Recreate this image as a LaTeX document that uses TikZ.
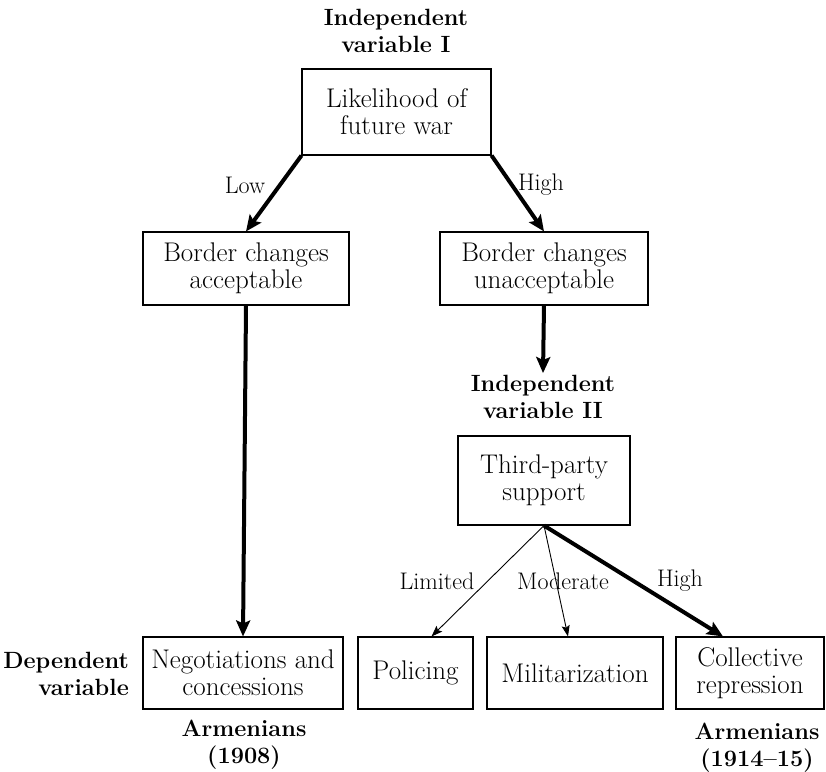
\documentclass[tikz,border=0pt]{standalone}
\usetikzlibrary{arrows.meta,calc}
\begin{document}
\begin{tikzpicture}[x=1pt,y=-1pt,
  box/.style={draw,line width=1.1pt,inner sep=0pt,align=center,font=\fontsize{27}{27}\selectfont},
  bl/.style={align=center,font=\bfseries\fontsize{23.5}{27}\selectfont,inner sep=0pt},
  lbl/.style={font=\fontsize{24}{26}\selectfont,inner sep=0pt},
  thick arrow/.style={line width=4pt,-{Stealth[length=16pt,width=14pt,inset=3pt]}},
  thin arrow/.style={line width=0.9pt,-{Stealth[length=11pt,width=8pt,inset=2pt]}}]
\useasboundingbox (0,0) rectangle (826,771);
\fill[white] (0,0) rectangle (826,771);
% bold labels
\node[bl] (iv1) at (396,31) {Independent\\variable I};
\node[bl] (iv2) at (543,397) {Independent\\variable II};
\node[bl,align=right,anchor=east] (dv) at (129,674) {Dependent\\variable};
\node[bl] (arm1) at (244,745) {Armenians\\(1908)};
\node[bl] (arm2) at (757,748) {Armenians\\(1914--15)};
% boxes
\node[box,minimum width=189pt,minimum height=86pt] (war) at (396.5,112) {Likelihood of\\future war};
\node[box,minimum width=206pt,minimum height=73pt] (acc) at (246,268.5) {Border changes\\acceptable};
\node[box,minimum width=208pt,minimum height=73pt] (unacc) at (544,268.5) {Border changes\\unacceptable};
\node[box,minimum width=172pt,minimum height=89pt] (third) at (544,480.5) {Third-party\\support};
\node[box,minimum width=200pt,minimum height=72pt] (neg) at (243,673) {Negotiations and\\concessions};
\node[box,minimum width=115pt,minimum height=72pt] (pol) at (415.5,673) {Policing};
\node[box,minimum width=176pt,minimum height=72pt] (mil) at (575,673) {Militarization};
\node[box,minimum width=148pt,minimum height=72pt] (col) at (750,673) {Collective\\repression};
% connectors
\draw[thick arrow] (war.south west) -- (acc.north);
\draw[thick arrow] (war.south east) -- (unacc.north);
\draw[thick arrow] (acc.south) -- (neg.north);
\draw[thick arrow] (unacc.south) -- ($(iv2.north)+(0,-2)$);
\draw[thin arrow] (third.south) -- ($(pol.north)+(16,0)$);
\draw[thin arrow] (third.south) -- ($(mil.north)+(-7,0)$);
\draw[thick arrow] (third.south) -- ($(col.north)+(-27,0)$);
% edge labels
\node[lbl] (low) at (245,185) {Low};
\node[lbl] (high1) at (541,185) {High};
\node[lbl] (lim) at (437,581) {Limited};
\node[lbl] (mod) at (563,581) {Moderate};
\node[lbl] (high2) at (680,581) {High};
\end{tikzpicture}
\end{document}
